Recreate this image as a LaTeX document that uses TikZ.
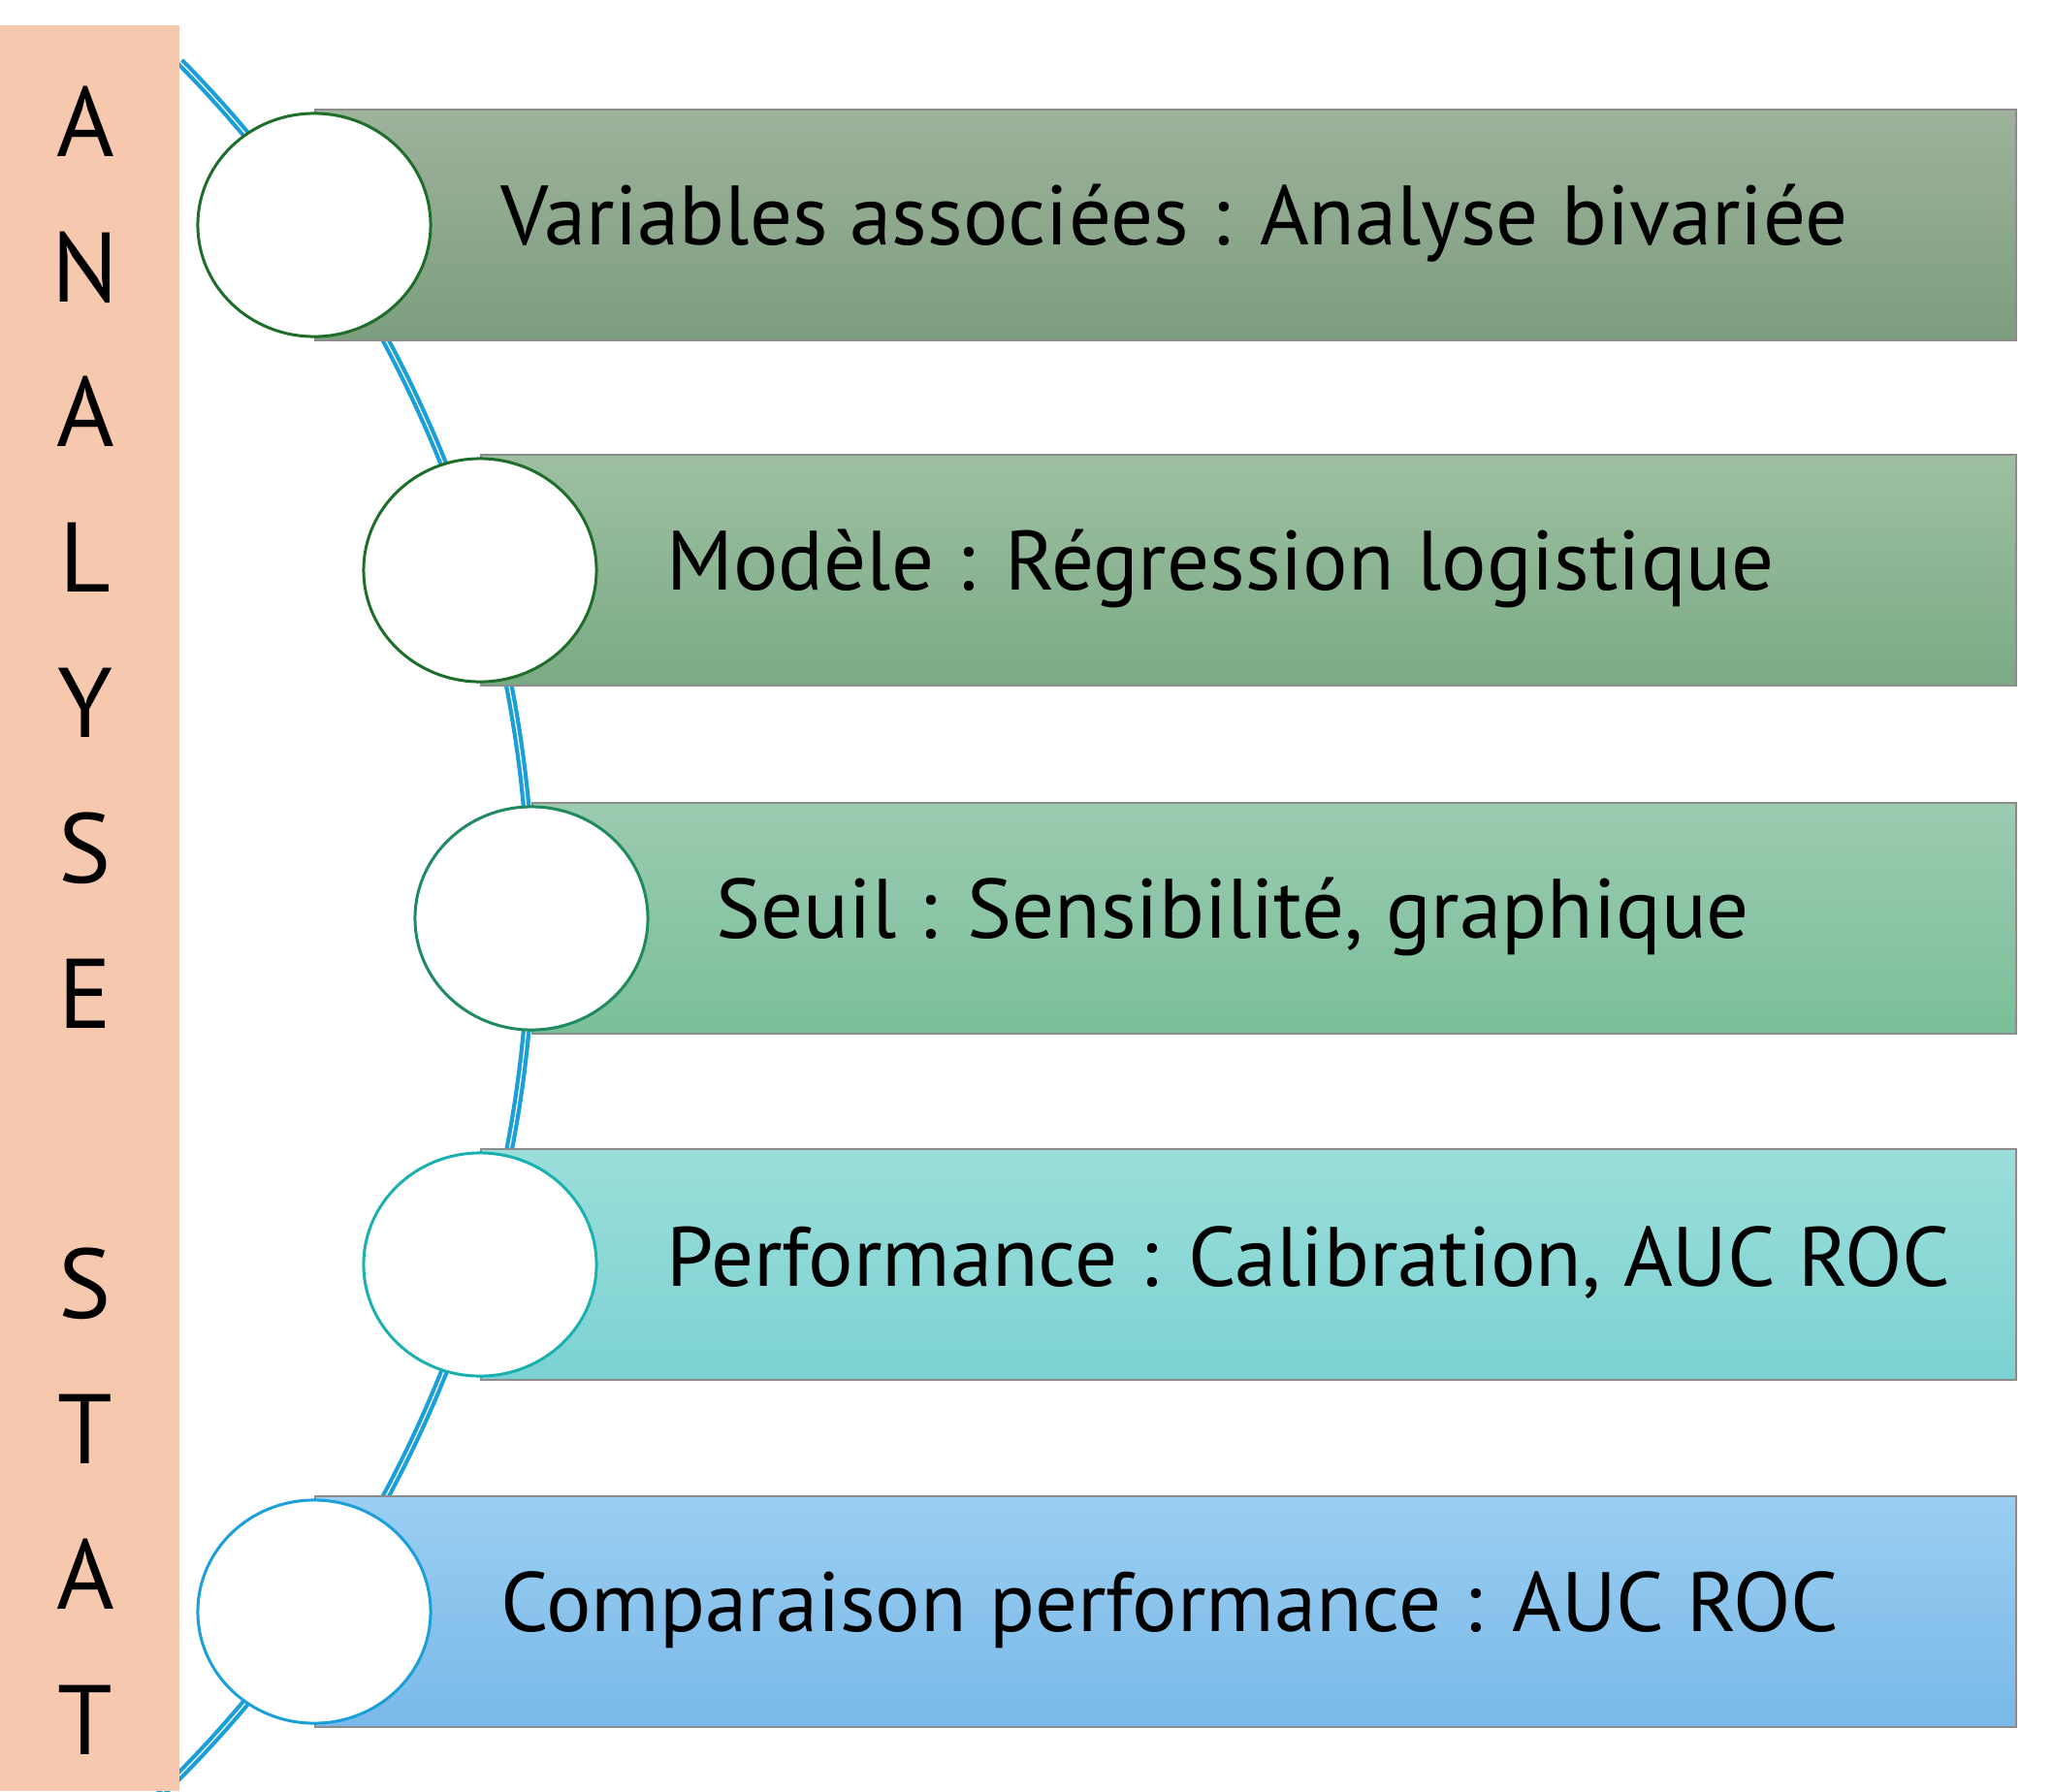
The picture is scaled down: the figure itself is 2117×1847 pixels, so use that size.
\documentclass[tikz,border=0pt]{standalone}
\usepackage{fontspec}
\setmainfont{PT Sans}
\usetikzlibrary{shapes.geometric}

\begin{document}
\begin{tikzpicture}[x=0.01cm, y=-0.01cm,
  box/.style={draw=gray!90, line width=0.6pt, anchor=west, minimum height=2.38cm, inner sep=0pt},
  ring/.style={ellipse, fill=white, line width=0.85pt, minimum width=2.4cm, minimum height=2.3cm, inner sep=0pt},
  label/.style={anchor=west, inner sep=0pt, font=\fontsize{24.7}{28}\selectfont}]

\definecolor{barpeach}{HTML}{F6C8AE}
\definecolor{arcblue}{HTML}{1A9FD9}
\definecolor{ringg}{HTML}{1E6E2A}
\definecolor{ringm}{HTML}{1E8A5E}
\definecolor{ringt}{HTML}{1AB0B0}

\useasboundingbox (0,0) rectangle (2117,1847);

% the arc behind everything
\draw[arcblue, line width=1.2pt, double=white, double distance=0.35pt]
  (-710,947) ++(-44.6:1258) arc[start angle=-44.6, end angle=50, radius=1258];

% side bar
\fill[barpeach] (0,26) rectangle (185,1847);
\node (bar) [anchor=north, align=center, inner sep=0pt, font=\fontsize{29}{42.6}\selectfont]
  at (88,88) {A\\N\\A\\L\\Y\\S\\E\\[42.6pt]S\\T\\A\\T};

% boxes
\node (b1) [box, top color={rgb,255:red,158;green,178;blue,156}, bottom color={rgb,255:red,124;green,158;blue,126}, minimum width=17.53cm] at (324,232) {};
\node (b2) [box, top color={rgb,255:red,158;green,191;blue,162}, bottom color={rgb,255:red,122;green,171;blue,132}, minimum width=15.82cm] at (495,588) {};
\node (b3) [box, top color={rgb,255:red,156;green,203;blue,176}, bottom color={rgb,255:red,122;green,191;blue,154}, minimum width=15.29cm] at (548,947) {};
\node (b4) [box, top color={rgb,255:red,155;green,222;blue,218}, bottom color={rgb,255:red,123;green,210;blue,210}, minimum width=15.82cm] at (495,1304) {};
\node (b5) [box, top color={rgb,255:red,154;green,206;blue,242}, bottom color={rgb,255:red,121;green,185;blue,232}, minimum width=17.53cm] at (324,1662) {};

% rings
\node (c1) [ring, draw=ringg] at (b1.west) {};
\node (c2) [ring, draw=ringg] at (b2.west) {};
\node (c3) [ring, draw=ringm] at (b3.west) {};
\node (c4) [ring, draw=ringt] at (b4.west) {};
\node (c5) [ring, draw=arcblue] at (b5.west) {};

% texts
\node (t1) [label] at (516,230) {Variables associées : Analyse bivariée};
\node (t2) [label] at (687,586) {Modèle : Régression logistique};
\node (t3) [label] at (738,945) {Seuil : Sensibilité, graphique};
\node (t4) [label] at (687,1302) {Performance : Calibration, AUC ROC};
\node (t5) [label] at (516,1660) {Comparaison performance : AUC ROC};

\end{tikzpicture}
\end{document}
